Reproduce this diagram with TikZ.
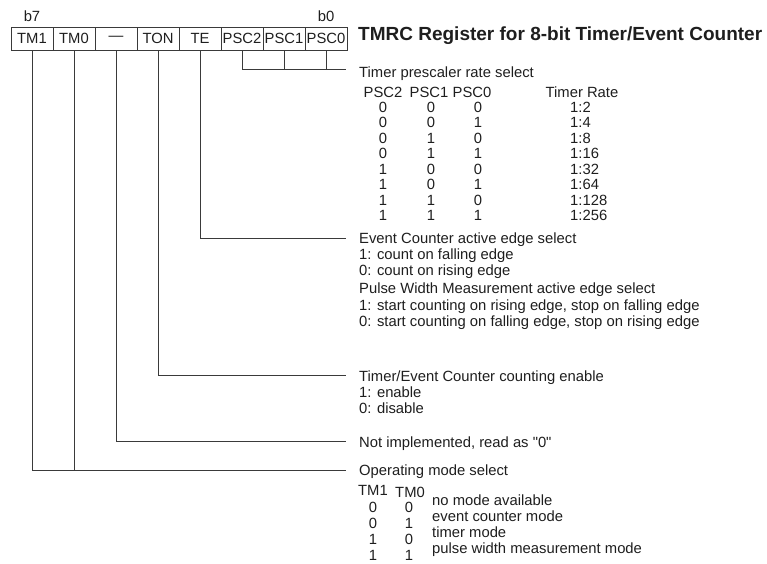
\documentclass[tikz,border=0pt]{standalone}
\usepackage{fontspec}
\setmainfont{Liberation Sans}
\usepackage{xcolor}
\usepackage{tikz}
\usetikzlibrary{positioning,calc}
\definecolor{ink}{HTML}{1E1E1E}
\definecolor{wirec}{HTML}{3A3A3A}
\tikzset{
  txt/.style    = {font=\fontsize{14.8}{16}\selectfont, text=ink, inner sep=0pt,
                   anchor=base west},
  col/.style    = {txt, anchor=base},
  head/.style   = {font=\fontsize{19}{22}\selectfont\bfseries, text=ink,
                   inner sep=0pt, anchor=west},
  cell/.style   = {draw=wirec, line width=0.9pt, minimum width=42pt,
                   minimum height=23pt, inner sep=0pt, text=ink,
                   font=\fontsize{14.8}{16}\selectfont},
  wire/.style   = {draw=wirec, line width=0.9pt},
}

\begin{document}
\begin{tikzpicture}[x=1pt, y=-1pt]
\useasboundingbox (0,0) rectangle (767,563);

% ---------------- the register ----------------------------------------
\foreach \nm/\lab [count=\i from 0] in {tm1/TM1, tm0/TM0, nc/—, ton/TON,
                                       te/TE, psc2/PSC2, psc1/PSC1, psc0/PSC0}
  \node[cell] (\nm) at (32+42*\i, 38.5) {\lab};

\node[col] (b7) at (32,21) {b7};
\node[col] (b0) at (326,21) {b0};
\node[head] (title) at (358,36) {TMRC Register for 8-bit Timer/Event Counter};

% ---------------- prescaler bits --------------------------------------
\coordinate (e-psc) at (346,69);
\draw[wire] (psc2.south) |- (e-psc);
\draw[wire] (psc1.south) -- (psc1.south |- e-psc);
\draw[wire] (psc0.south) -- (psc0.south |- e-psc);

\node[txt] (psc-t) at (359,77) {Timer prescaler rate select};
\node[col] (psc-h2) at (383,97) {PSC2};
\node[col] (psc-h1) at (429,97) {PSC1};
\node[col] (psc-h0) at (472,97) {PSC0};
\node[col] (psc-hr) at (582,97) {Timer Rate};
\foreach \a/\b/\c/\r [count=\i from 0] in {0/0/0/2, 0/0/1/4, 0/1/0/8, 0/1/1/16,
                                          1/0/0/32, 1/0/1/64, 1/1/0/128, 1/1/1/256} {
  \node[col] (p2-\i) at (383,112+15.5*\i) {\a};
  \node[col] (p1-\i) at (431,112+15.5*\i) {\b};
  \node[col] (p0-\i) at (478,112+15.5*\i) {\c};
  \node[txt] (pr-\i) at (570,112+15.5*\i) {1:\r};
}

% ---------------- TE --------------------------------------------------
\coordinate (e-te) at (346,238);
\draw[wire] (te.south) |- (e-te);
\node[txt] (te-1) at (359,243) {Event Counter active edge select};
\node[txt] (te-2) at (359,259) {1: count on falling edge};
\node[txt] (te-3) at (359,275) {0: count on rising edge};
\node[txt] (te-4) at (359,293) {Pulse Width Measurement active edge select};
\node[txt] (te-5) at (359,310) {1: start counting on rising edge, stop on falling edge};
\node[txt] (te-6) at (359,326) {0: start counting on falling edge, stop on rising edge};

% ---------------- TON -------------------------------------------------
\coordinate (e-ton) at (346,375);
\draw[wire] (ton.south) |- (e-ton);
\node[txt] (ton-1) at (359,381) {Timer/Event Counter counting enable};
\node[txt] (ton-2) at (359,397) {1: enable};
\node[txt] (ton-3) at (359,413) {0: disable};

% ---------------- unused bit ------------------------------------------
\coordinate (e-nc) at (346,441);
\draw[wire] (nc.south) |- (e-nc);
\node[txt] (nc-1) at (359,447) {Not implemented, read as \textquotedbl 0\textquotedbl};

% ---------------- mode bits -------------------------------------------
\coordinate (e-tm) at (346,470);
\draw[wire] (tm1.south) |- (e-tm);
\draw[wire] (tm0.south) -- (tm0.south |- e-tm);
\node[txt] (tm-t) at (359,475) {Operating mode select};
\node[col] (tm-h1) at (373,495) {TM1};
\node[col] (tm-h0) at (410,497) {TM0};
\foreach \a/\b/\md [count=\i from 0] in {0/0/no mode available,
                                        0/1/event counter mode,
                                        1/0/timer mode,
                                        1/1/pulse width measurement mode} {
  \node[col] (m1-\i) at (373,512+16*\i) {\a};
  \node[col] (m0-\i) at (409,512+16*\i) {\b};
  \node[txt] (md-\i) at (432,505+16*\i) {\md};
}

\end{tikzpicture}
\end{document}
